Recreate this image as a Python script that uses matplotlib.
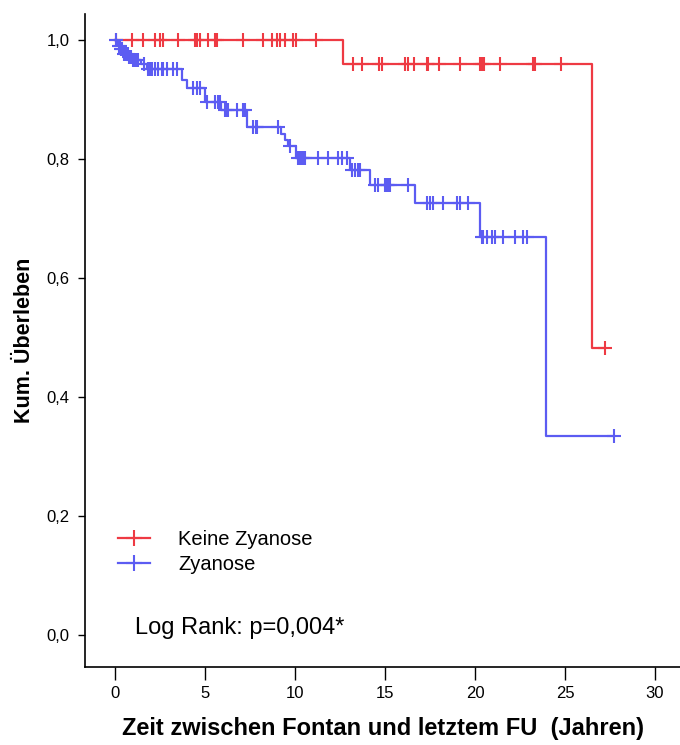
import numpy as np
import matplotlib
matplotlib.use("Agg")
import matplotlib.pyplot as plt

plt.rcParams['font.family'] = ['Liberation Sans', 'DejaVu Sans']

# Kaplan-Meier steps (time in years, cumulative survival)
red_t = [0, 12.68, 26.5, 27.2]
red_s = [1.0, 0.96, 0.482, 0.482]
red_cens = [0.05, 0.96, 1.57, 2.22, 2.5, 2.65, 3.48, 4.44, 4.54, 4.72, 5.17, 5.56,
            5.65, 7.13, 8.24, 8.7, 8.98, 9.17, 9.44, 9.87, 10.06, 11.17,
            13.24, 13.74, 14.68, 14.82, 16.11, 16.29, 16.63, 17.32, 17.41, 18.0,
            19.17, 20.28, 20.37, 20.5, 21.39, 23.24, 23.33, 24.76, 27.2]

blue_t = [0, 0.15, 0.3, 0.45, 0.75, 0.95, 1.45, 1.75, 3.7, 3.98, 5.0, 5.9, 7.33,
          9.2, 9.45, 9.63, 10.05, 13.06, 14.17, 16.67, 20.28, 23.93, 27.74]
blue_s = [1.0, 0.99, 0.985, 0.977, 0.972, 0.966, 0.96, 0.951, 0.932, 0.919, 0.895,
          0.882, 0.854, 0.842, 0.832, 0.822, 0.802, 0.782, 0.756, 0.7255, 0.669,
          0.3345, 0.3345]
blue_cens = [0.05, 0.2, 0.25, 0.35, 0.4, 0.5, 0.6, 0.7, 0.8, 0.9, 1.0, 1.1, 1.2, 1.3,
             1.6, 1.83, 1.94, 2.04, 2.22, 2.41, 2.59, 2.69, 2.87, 3.24, 3.43,
             4.35, 4.54, 4.72, 5.09, 5.56, 5.74, 5.83, 6.11, 6.2, 6.3, 6.76, 7.13, 7.22,
             7.69, 7.83, 7.91, 9.07, 9.72, 10.19, 10.28, 10.37, 10.43, 10.5, 10.56,
             11.3, 11.85, 12.41, 12.6, 12.87, 13.15, 13.33, 13.52, 13.61,
             14.44, 14.63, 15.0, 15.09, 15.19, 15.28, 16.29, 17.32, 17.5, 17.68,
             18.24, 18.98, 19.17, 19.63, 20.37, 20.46, 20.65, 20.93, 21.11, 21.57,
             22.22, 22.68, 22.87, 27.74]

labels = ["Keine Zyanose", "Zyanose"]
xticks = [0, 5, 10, 15, 20, 25, 30]
yticks = [0.0, 0.2, 0.4, 0.6, 0.8, 1.0]
ytick_labels = ["0,0", "0,2", "0,4", "0,6", "0,8", "1,0"]

RED = "#ee3a43"
BLUE = "#5c5cf2"


def surv_at(step_t, step_s, t):
    idx = np.searchsorted(step_t, t, side="right") - 1
    return np.asarray(step_s)[idx]


fig = plt.figure(figsize=(6.8, 7.45), dpi=100)
ax = fig.add_axes([85 / 680, 78 / 745, 595 / 680, (745 - 78 - 14) / 745])

for st, ss, cens, col, lab in [(red_t, red_s, red_cens, RED, labels[0]),
                               (blue_t, blue_s, blue_cens, BLUE, labels[1])]:
    ax.step(st, ss, where="post", color=col, lw=1.6)
    ax.plot(cens, surv_at(st, ss, cens), "+", color=col, ms=9.5, mew=1.5)
    # legend proxy
    ax.plot([], [], "-+", color=col, lw=1.6, ms=12, mew=1.5, label=lab)

ax.set_xlim(-1.67, -1.67 + 595 / 18)
ax.set_ylim(-(667 - 635) / 595, 1 + (40 - 14) / 595)
ax.set_xticks(xticks)
ax.set_yticks(yticks)
ax.set_yticklabels(ytick_labels)
ax.tick_params(axis="x", length=9, width=1, pad=5, labelsize=12)
ax.tick_params(axis="y", length=5, width=1, pad=6, labelsize=12)
for s in ["top", "right"]:
    ax.spines[s].set_visible(False)
for s in ["left", "bottom"]:
    ax.spines[s].set_linewidth(1.2)

ax.set_xlabel("Zeit zwischen Fontan und letztem FU  (Jahren)", fontsize=17,
              fontweight="bold", labelpad=11)
ax.set_ylabel("Kum. Überleben", fontsize=15.5, fontweight="bold", labelpad=8)

fig.legend(loc="upper left", bbox_to_anchor=(118 / 680, 1 - 530 / 745),
           frameon=False, fontsize=14.5, handlelength=1.6, handletextpad=1.4,
           labelspacing=0.3, borderpad=0, borderaxespad=0)

fig.text(135 / 680, 1 - 628 / 745, "Log Rank: p=0,004*", fontsize=17,
         va="center", ha="left")

fig.savefig("out.png", dpi=100)
